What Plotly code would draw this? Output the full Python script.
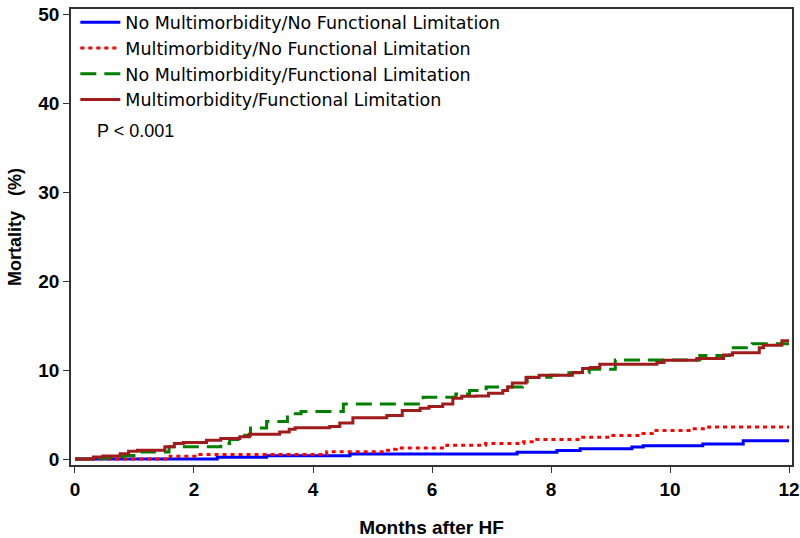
import plotly.graph_objects as go

# ---- data (months after HF, cumulative mortality %) ----
names = [
    "No Multimorbidity/No Functional Limitation",
    "Multimorbidity/No Functional Limitation",
    "No Multimorbidity/Functional Limitation",
    "Multimorbidity/Functional Limitation",
]

t_nomm_nofl = [0, 2.39, 3.22, 4.62, 7.43, 8.1, 8.49, 9.36, 9.55, 10.55, 11.23, 12]
v_nomm_nofl = [0, 0.19, 0.37, 0.56, 0.75, 0.95, 1.15, 1.35, 1.5, 1.7, 2.05, 2.05]

t_mm_nofl = [0, 1.6, 2.1, 4.23, 5.2, 5.3, 5.4, 6.25, 6.9, 7.54, 7.76, 8.5, 9.0, 9.5, 9.7, 10.35, 10.65, 12]
v_mm_nofl = [0, 0.3, 0.5, 0.82, 1.0, 1.1, 1.25, 1.56, 1.75, 1.95, 2.2, 2.45, 2.65, 2.86, 3.2, 3.4, 3.6, 3.6]

t_nomm_fl = [0, 0.3, 0.54, 0.82, 1.1, 1.58, 2.45, 2.6, 2.77, 2.95, 3.22, 3.57, 3.8, 4.51,
             5.85, 6.4, 6.63, 6.91, 7.52, 7.6, 8.0, 8.3, 8.64, 9.08, 10.5, 11.0, 11.38, 12]
v_nomm_fl = [0, 0.1, 0.23, 0.4, 0.8, 1.37, 1.74, 2.2, 2.67, 3.5, 4.23, 5.08, 5.35, 6.2,
             6.94, 7.3, 7.7, 8.1, 8.4, 9.2, 9.43, 9.7, 10.1, 11.13, 11.65, 12.5, 12.95, 12.95]

t_mm_fl = [0, 0.31, 0.47, 0.76, 0.9, 1.05, 1.51, 1.67, 1.82, 2.21, 2.45, 2.77, 2.93, 3.44, 3.6,
           3.7, 4.28, 4.45, 4.67, 5.24, 5.5, 5.8, 5.95, 6.18, 6.35, 6.5, 6.74, 6.95, 7.19, 7.27,
           7.35, 7.58, 7.8, 8.36, 8.53, 8.66, 8.82, 9.78, 9.9, 10.45, 10.9, 11.05, 11.5, 11.57,
           11.88, 12]
v_mm_fl = [0, 0.23, 0.35, 0.6, 0.87, 1.0, 1.37, 1.74, 1.85, 2.1, 2.3, 2.5, 2.78, 3.04, 3.34,
           3.52, 3.67, 4.04, 4.64, 4.9, 5.45, 5.7, 5.9, 6.2, 6.83, 7.05, 7.1, 7.4, 7.7, 8.1,
           8.54, 9.17, 9.43, 9.73, 10.17, 10.3, 10.65, 10.85, 11.1, 11.3, 11.7, 11.95, 12.5, 12.8,
           13.3, 13.3]

x_ticks = [0, 2, 4, 6, 8, 10, 12]
y_ticks = [0, 10, 20, 30, 40, 50]

series = [
    (t_nomm_nofl, v_nomm_nofl, "#0000FF", "solid"),
    (t_mm_nofl, v_mm_nofl, "#FF0000", "4px,4px"),
    (t_nomm_fl, v_nomm_fl, "#007F00", "16px,8px"),
    (t_mm_fl, v_mm_fl, "#A01C1C", "solid"),
]

FONT = "Liberation Sans, Arial, sans-serif"
LEGFONT = "DejaVu Sans, Liberation Sans, sans-serif"

fig = go.Figure()
for name, (t, v, col, dash) in zip(names, series):
    fig.add_trace(go.Scatter(
        x=t, y=v, name=name, mode="lines",
        line=dict(color=col, width=3, dash=dash, shape="hv"),
    ))

fig.add_annotation(
    x=0.033, y=0.733, xref="paper", yref="paper", xanchor="left", yanchor="middle",
    text="P &lt; 0.001", showarrow=False, font=dict(family=FONT, size=18, color="black"),
)

fig.update_layout(
    width=800, height=538,
    margin=dict(l=71, r=8, t=4, b=73),
    paper_bgcolor="white", plot_bgcolor="white",
    font=dict(family=FONT, color="black"),
    showlegend=True,
    legend=dict(
        x=0.006, y=1.01, xanchor="left", yanchor="top",
        bgcolor="rgba(0,0,0,0)", borderwidth=0,
        font=dict(family=LEGFONT, size=17.5, color="black"),
        tracegroupgap=0, itemwidth=40,
    ),
    xaxis=dict(
        range=[-0.067, 12.05], tickvals=x_ticks, ticktext=[str(v) for v in x_ticks],
        showgrid=False, zeroline=False, showline=True, linecolor="#333", linewidth=1.5,
        mirror=True, ticks="outside", ticklen=6, tickcolor="#333", automargin=False,
        tickfont=dict(family=FONT, size=19, color="black", weight="bold"),
        title=dict(text="Months after HF", standoff=23,
                   font=dict(family=FONT, size=19, color="black", weight="bold")),
    ),
    yaxis=dict(
        range=[-0.67, 50.6], tickvals=y_ticks, ticktext=[str(v) for v in y_ticks],
        showgrid=False, zeroline=False, showline=True, linecolor="#333", linewidth=1.5,
        mirror=True, ticks="outside", ticklen=6, tickcolor="#333", automargin=False,
        tickfont=dict(family=FONT, size=19, color="black", weight="bold"),
        title=dict(text="&nbsp;&nbsp;&nbsp;&nbsp;Mortality&nbsp;&nbsp;&nbsp;(%)", standoff=12,
                   font=dict(family=FONT, size=18, color="black", weight="bold")),
    ),
)

fig.write_html(
    "out.html",
    config={"displayModeBar": False},
    post_script="document.body.style.margin='0';document.body.style.padding='0';",
)
